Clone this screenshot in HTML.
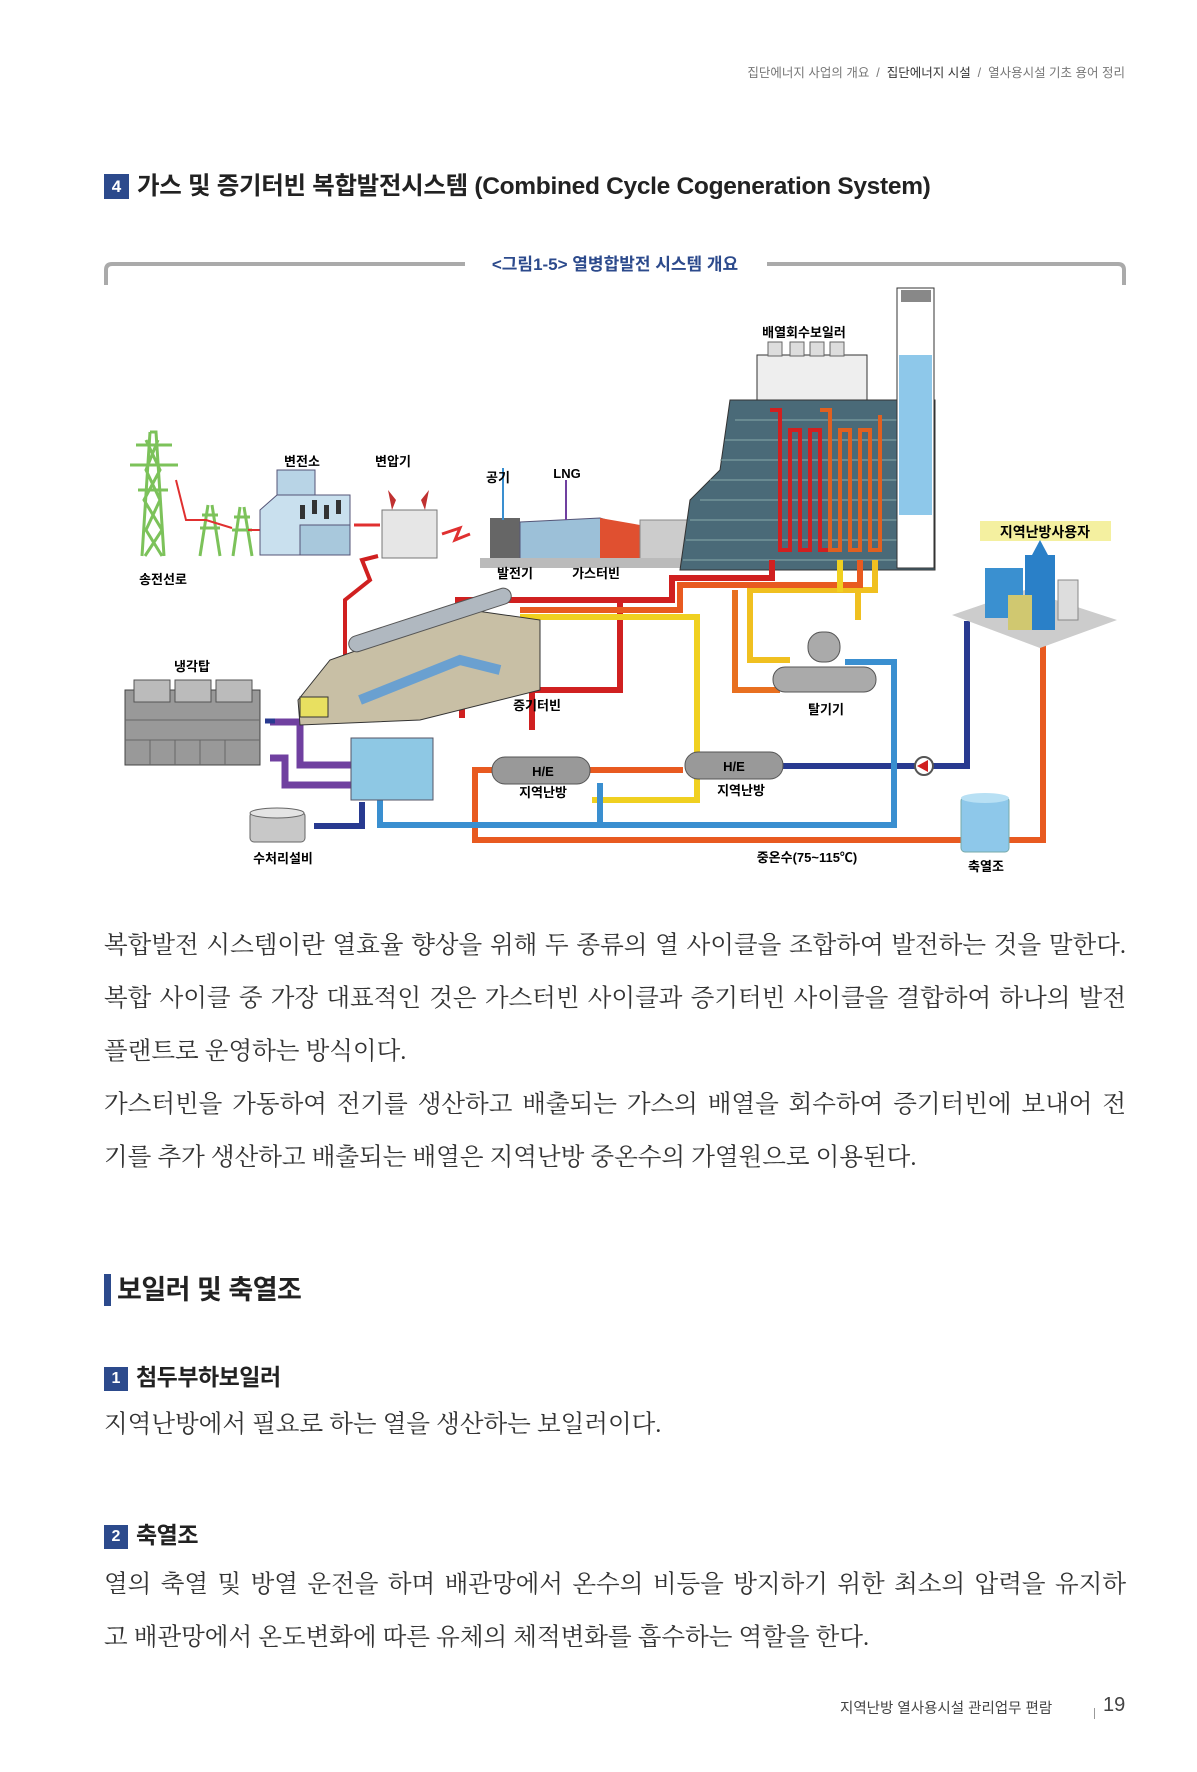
<!DOCTYPE html>
<html><head><meta charset="utf-8">
<style>
*{margin:0;padding:0;box-sizing:border-box}
body{width:1197px;height:1772px;background:#fff;position:relative;overflow:hidden;font-family:"Liberation Sans","Noto Sans CJK KR",sans-serif;color:#222}
.abs{position:absolute;white-space:nowrap}
.bc{top:62px;right:72px;font-size:12.5px;color:#777}
.bc b{font-weight:normal;color:#333}
.h4{top:167px;left:104px;font-size:24.5px;font-weight:bold;letter-spacing:-0.3px;color:#222}
.num{display:inline-block;width:25px;height:25px;background:#2c4a8c;color:#fff;font-size:17px;text-align:center;line-height:25px;margin-right:8px;vertical-align:2px;letter-spacing:0}
.p{position:absolute;left:104px;width:1022px;font-family:"Liberation Serif","Noto Serif CJK SC",serif;font-size:24.5px;color:#333;white-space:nowrap}
.j{text-align:justify;text-align-last:justify}
.sec{top:1274px;left:104px;font-size:27px;font-weight:bold;letter-spacing:-0.5px;color:#222;border-left:7px solid #2c4a8c;padding-left:6px;line-height:32px}
.sub{font-size:23px;font-weight:bold;color:#222;letter-spacing:-0.5px}
.sub .num{width:24px;height:24px;line-height:24px;font-size:16px}
</style></head><body>
<div class="abs bc">집단에너지 사업의 개요 &nbsp;/&nbsp; <b>집단에너지 시설</b> &nbsp;/&nbsp; 열사용시설 기초 용어 정리</div>
<div class="abs h4"><span class="num">4</span>가스 및 증기터빈 복합발전시스템 (Combined Cycle Cogeneration System)</div>

<svg class="abs" style="left:0;top:0" width="1197" height="880" viewBox="0 0 1197 880" font-family="Liberation Sans,Noto Sans CJK KR,sans-serif" font-weight="bold">
<path d="M106 285 V270 Q106 264 112 264 H465 M767 264 H1118 Q1124 264 1124 270 V285" fill="none" stroke="#aaa" stroke-width="4"/>
<text x="615" y="270" font-size="17" fill="#2c4a8c" text-anchor="middle" font-weight="bold">&lt;그림1-5&gt; 열병합발전 시스템 개요</text>
<g stroke="#7cc25a" stroke-width="3" fill="none">
<path d="M150 432 L156 432 L164 556 M150 432 L142 556 M136 445 H172 M130 465 H178 M138 490 H168 M146 440 L160 470 L144 500 L162 530 L145 556 M158 440 L146 470 L160 500 L146 530 L162 556"/>
<path d="M208 505 L200 556 M212 505 L220 556 M202 515 H218 M200 528 H220 M240 507 L233 556 M244 507 L252 556 M234 517 H250 M232 530 H252"/>
</g>
<path d="M176 480 L186 520 L206 520 L232 528 M248 530 H262" stroke="#e03030" stroke-width="2" fill="none"/>
<text x="163" y="584" font-size="13" text-anchor="middle">송전선로</text>
<rect x="277" y="470" width="38" height="40" fill="#b8d4e6" stroke="#557"/>
<path d="M260 510 L277 495 H350 V555 H260Z" fill="#c9e0ee" stroke="#557"/>
<rect x="300" y="525" width="50" height="30" fill="#a8c8dc" stroke="#557"/>
<g fill="#333"><rect x="300" y="505" width="5" height="14"/><rect x="312" y="500" width="5" height="14"/><rect x="324" y="505" width="5" height="14"/><rect x="336" y="500" width="5" height="14"/></g>
<text x="302" y="466" font-size="13" text-anchor="middle">변전소</text>
<path d="M354 525 H380" stroke="#e03030" stroke-width="3"/>
<rect x="382" y="510" width="55" height="48" fill="#e6e6e6" stroke="#777"/>
<path d="M392 510 l-4 -20 8 10z M425 510 l4 -20 -8 10z" fill="#c03030"/>
<text x="393" y="466" font-size="13" text-anchor="middle">변압기</text>
<path d="M442 534 L460 528 L455 540 L470 534" stroke="#e03030" stroke-width="3" fill="none"/>
<rect x="490" y="518" width="30" height="40" fill="#666"/>
<path d="M520 522 L600 518 L640 530 L640 555 L600 565 L520 560Z" fill="#9cc0d8" stroke="#557"/>
<path d="M600 518 L640 525 V560 L600 566Z" fill="#e05030"/>
<rect x="640" y="520" width="55" height="42" fill="#ccc" stroke="#888"/>
<rect x="480" y="558" width="215" height="10" fill="#bbb"/>
<path d="M503 468 V520" stroke="#3a8fd0" stroke-width="2"/>
<path d="M566 480 V520" stroke="#7040a0" stroke-width="2"/>
<text x="498" y="482" font-size="13" text-anchor="middle">공기</text>
<text x="567" y="478" font-size="13" text-anchor="middle">LNG</text>
<text x="515" y="578" font-size="13" text-anchor="middle">발전기</text>
<text x="596" y="578" font-size="13" text-anchor="middle">가스터빈</text>
<path d="M680 570 L690 500 L720 470 L730 400 H935 V570Z" fill="#4a6a78" stroke="#333"/>
<g stroke="#8aa" stroke-width="1"><path d="M735 420 H930 M725 440 H930 M720 460 H930 M710 480 H930 M700 500 H930 M690 520 H930 M686 540 H930 M683 560 H930"/></g>
<rect x="757" y="355" width="110" height="45" fill="#eee" stroke="#333"/>
<g fill="#ddd" stroke="#666"><rect x="768" y="342" width="14" height="14"/><rect x="790" y="342" width="14" height="14"/><rect x="810" y="342" width="14" height="14"/><rect x="830" y="342" width="14" height="14"/></g>
<text x="804" y="337" font-size="13" text-anchor="middle">배열회수보일러</text>
<path d="M770 410 h10 v140 h10 v-120 h10 v120 h10 v-120 h10 v120 h10 v-135" stroke="#d02020" stroke-width="4" fill="none"/>
<path d="M820 410 h10 v140 h10 v-120 h10 v120 h10 v-120 h10 v120 h10 v-135" stroke="#e06020" stroke-width="4" fill="none"/>
<rect x="897" y="288" width="37" height="280" fill="#fff" stroke="#333"/>
<rect x="899" y="355" width="33" height="160" fill="#8ec8ea"/>
<rect x="901" y="290" width="30" height="12" fill="#888"/>
<g fill="none" stroke-width="6" stroke-linejoin="miter">
<path d="M772 560 V578 H672 V600 H532" stroke="#d02020"/>
<path d="M548 600 H458 V625" stroke="#d02020"/>
<path d="M620 600 V690 H462 V718" stroke="#d02020"/>
<path d="M532 730 V690" stroke="#d02020"/>
<path d="M875 560 V590 H750 V660 H790" stroke="#f0c020"/>
<path d="M860 560 V585 H680 V610 H520" stroke="#e85a20"/>
<path d="M735 590 V690 H780" stroke="#e87020"/>
<path d="M840 560 V592 M520 617 H697 V800 H592" stroke="#f0d020"/>
<path d="M858 590 V620" stroke="#f0c020"/>
<path d="M493 770 H475 V840 H1043 V621" stroke="#e85a20"/>
<path d="M590 770 H683" stroke="#e85a20"/>
<path d="M783 766 H967 V621" stroke="#283a90"/>
<path d="M380 800 V825 H894 V662 H845" stroke="#3a8fd0"/>
<path d="M600 783 V825" stroke="#3a8fd0"/>
<path d="M314 826 H362 V802" stroke="#283a90"/>
<path d="M270 722 H300 V765 H380 M270 758 H285 V785 H370" stroke="#7040a0" stroke-width="7"/>
<path d="M345 690 V600 L370 580 L362 560 L378 556" stroke="#d02020" stroke-width="4"/>
</g>
<rect x="125" y="690" width="135" height="75" fill="#999" stroke="#444"/>
<g fill="#bbb" stroke="#555"><rect x="134" y="680" width="36" height="22"/><rect x="175" y="680" width="36" height="22"/><rect x="216" y="680" width="36" height="22"/></g>
<g stroke="#666"><path d="M125 720 H260 M125 740 H260 M150 740 V765 M175 740 V765 M200 740 V765 M225 740 V765"/></g>
<text x="192" y="671" font-size="13" text-anchor="middle">냉각탑</text>
<path d="M265 721 h10" stroke="#283a90" stroke-width="5"/>
<path d="M298 700 L330 660 L470 610 L540 620 L540 690 L420 720 L300 725Z" fill="#c8bfa5" stroke="#333"/>
<rect x="345" y="612" width="170" height="16" rx="8" fill="#b0b8c0" stroke="#555" transform="rotate(-18 430 620)"/>
<path d="M360 700 L460 660 L500 670" stroke="#6aa0d0" stroke-width="10" fill="none"/>
<rect x="300" y="697" width="28" height="20" fill="#e8e060" stroke="#333"/>
<text x="537" y="710" font-size="13" text-anchor="middle">증기터빈</text>
<rect x="351" y="738" width="82" height="62" fill="#8ec8e4" stroke="#556"/>
<rect x="250" y="812" width="55" height="30" rx="4" fill="#c8c8c8" stroke="#666"/>
<ellipse cx="277" cy="813" rx="27" ry="5" fill="#e4e4e4" stroke="#666"/>
<text x="283" y="863" font-size="13" text-anchor="middle">수처리설비</text>
<rect x="492" y="757" width="98" height="27" rx="13" fill="#999" stroke="#555"/>
<text x="543" y="776" font-size="13" text-anchor="middle">H/E</text>
<text x="543" y="797" font-size="13" text-anchor="middle">지역난방</text>
<rect x="685" y="752" width="98" height="27" rx="13" fill="#999" stroke="#555"/>
<text x="734" y="771" font-size="13" text-anchor="middle">H/E</text>
<text x="741" y="795" font-size="13" text-anchor="middle">지역난방</text>
<rect x="808" y="632" width="32" height="30" rx="14" fill="#aaa" stroke="#555"/>
<rect x="773" y="667" width="103" height="25" rx="12" fill="#aaa" stroke="#555"/>
<text x="826" y="714" font-size="13" text-anchor="middle">탈기기</text>
<circle cx="924" cy="766" r="9" fill="#fff" stroke="#555" stroke-width="2"/>
<path d="M917 766 l11 -6 v12z" fill="#d02020"/>
<rect x="961" y="797" width="48" height="55" rx="4" fill="#8ec8ea" stroke="#7aa"/>
<ellipse cx="985" cy="798" rx="24" ry="5" fill="#b8e0f4"/>
<text x="986" y="871" font-size="13" text-anchor="middle">축열조</text>
<text x="807" y="862" font-size="13" text-anchor="middle">중온수(75~115℃)</text>
<rect x="980" y="521" width="131" height="20" fill="#f4f0a0"/>
<text x="1045" y="537" font-size="14" text-anchor="middle">지역난방사용자</text>
<path d="M952 615 L1025 590 L1117 620 L1040 648Z" fill="#ccc"/>
<rect x="985" y="568" width="38" height="50" fill="#3a90d0"/>
<rect x="1025" y="555" width="30" height="75" fill="#2a80c8"/>
<path d="M1040 540 l-8 15 h16z" fill="#2a80c8"/>
<rect x="1058" y="580" width="20" height="40" fill="#ddd" stroke="#888"/>
<rect x="1008" y="595" width="24" height="35" fill="#d0c870"/>
</svg>

<div class="p j" style="top:926px">복합발전 시스템이란 열효율 향상을 위해 두 종류의 열 사이클을 조합하여 발전하는 것을 말한다.</div>
<div class="p j" style="top:979px">복합 사이클 중 가장 대표적인 것은 가스터빈 사이클과 증기터빈 사이클을 결합하여 하나의 발전</div>
<div class="p" style="top:1032px">플랜트로 운영하는 방식이다.</div>
<div class="p j" style="top:1085px">가스터빈을 가동하여 전기를 생산하고 배출되는 가스의 배열을 회수하여 증기터빈에 보내어 전</div>
<div class="p" style="top:1138px">기를 추가 생산하고 배출되는 배열은 지역난방 중온수의 가열원으로 이용된다.</div>

<div class="abs sec">보일러 및 축열조</div>
<div class="abs sub" style="top:1358px;left:104px"><span class="num">1</span>첨두부하보일러</div>
<div class="p" style="top:1405px">지역난방에서 필요로 하는 열을 생산하는 보일러이다.</div>
<div class="abs sub" style="top:1516px;left:104px"><span class="num">2</span>축열조</div>
<div class="p j" style="top:1565px">열의 축열 및 방열 운전을 하며 배관망에서 온수의 비등을 방지하기 위한 최소의 압력을 유지하</div>
<div class="p" style="top:1618px">고 배관망에서 온도변화에 따른 유체의 체적변화를 흡수하는 역할을 한다.</div>

<div class="abs" style="top:1697px;left:840px;font-size:14.5px;color:#444">지역난방 열사용시설 관리업무 편람</div>
<div class="abs" style="top:1708px;left:1094px;width:1px;height:11px;background:#999"></div>
<div class="abs" style="top:1694px;left:1103px;font-size:20px;color:#444">19</div>
</body></html>
